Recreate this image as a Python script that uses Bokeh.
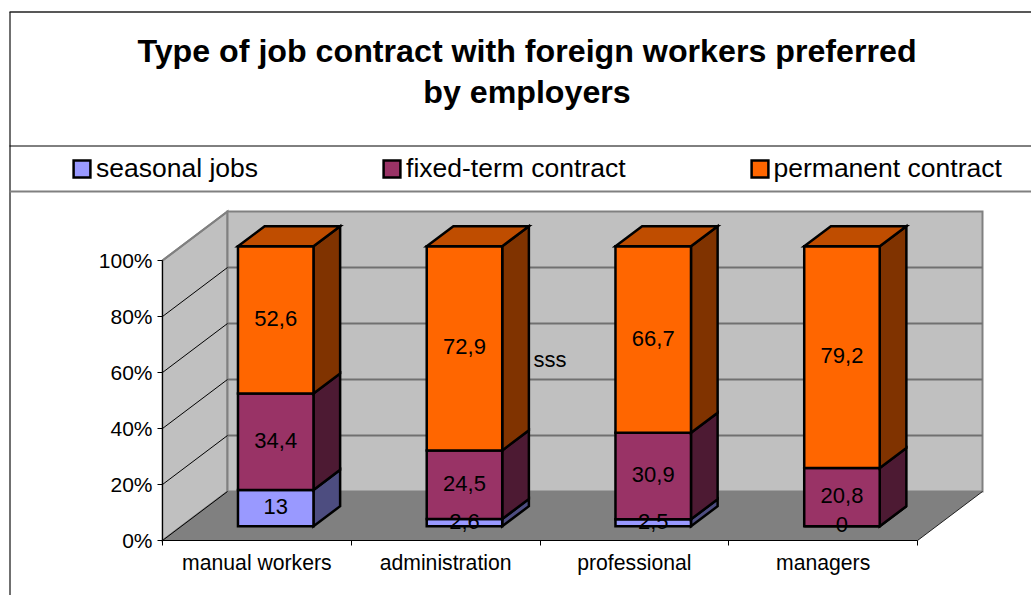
from bokeh.plotting import figure
from bokeh.models import Range1d, LinearAxis, FixedTicker, PrintfTickFormatter, Label, Legend, LegendItem
from bokeh.core.properties import value
from bokeh.embed import file_html
from bokeh.resources import INLINE

title_lines = ["Type of job contract with foreign workers preferred", "by employers"]
categories = ["manual workers", "administration", "professional", "managers"]
series_names = ["seasonal jobs", "fixed-term contract", "permanent contract"]
seasonal = [13, 2.6, 2.5, 0]
fixed_term = [34.4, 24.5, 30.9, 20.8]
permanent = [52.6, 72.9, 66.7, 79.2]
y_ticks = [0, 20, 40, 60, 80, 100]
note = "sss"

front_colors = ["#9999FF", "#993366", "#FF6600"]
side_colors = ["#4D4D80", "#4D1A33", "#803300"]
top_color = "#BF4D00"

# page pixel calibration of the oblique chart box
X0, XPX = 162.0, 188.75
Y0, YPX = 540.0, 2.8
DEPTH_X, DEPTH_Y = 65 / XPX, 49 / YPX
def fx(px): return (px - X0) / XPX
def fy(py): return (Y0 - py) / YPX
def ob(x, y, z): return x + z * DEPTH_X, y + z * DEPTH_Y

W, H = 1031, 595
p = figure(width=W, height=H, output_backend="svg", toolbar_location=None,
           x_range=Range1d(fx(0), fx(W)), y_range=Range1d(fy(H), fy(0)),
           x_axis_type=None, y_axis_type=None, min_border=0,
           background_fill_color="white", border_fill_color="white")
p.outline_line_color = None
p.grid.visible = False

# chart frame
p.line([fx(9.5), fx(9.5)], [fy(595), fy(11.5)], line_color="#404040", line_width=1.5)
p.line([fx(9), fx(1031)], [fy(11.5), fy(11.5)], line_color="#202020", line_width=1.5)
p.line([fx(9), fx(1031)], [fy(145.5), fy(145.5)], line_color="black", line_width=1)
p.line([fx(9), fx(1031)], [fy(191), fy(191)], line_color="#808080", line_width=2)

n = len(categories)
# walls and floor
wall = dict(fill_color="#C0C0C0", line_color="#808080", line_width=2, line_join="miter")
a, b = ob(0, 0, 1), ob(0, 100, 1)
p.patch([0, a[0], b[0], 0], [0, a[1], b[1], 100], **wall)
c = ob(n, 0, 1); d = ob(n, 100, 1)
p.patch([a[0], c[0], d[0], b[0]], [a[1], c[1], d[1], b[1]], **wall)
p.patch([0, n, c[0], a[0]], [0, 0, c[1], a[1]], fill_color="#808080", line_color=None)
p.line([n, c[0]], [0, c[1]], line_color="#202020", line_width=1)
for t in y_ticks[1:-1]:
    e = ob(0, t, 1); f = ob(n, t, 1)
    p.line([e[0], f[0]], [e[1], f[1]], line_color="#707070", line_width=2)
for t in y_ticks:
    e = ob(0, t, 1)
    p.line([0, e[0]], [t, e[1]], line_color="black" if t < 100 else "#808080", line_width=1 if t < 100 else 2)

# bars
BAR = 0.4
Z0, Z1 = 0.29, 0.70
values = [seasonal, fixed_term, permanent]
totals = [sum(s[i] for s in values) for i in range(n)]
front_r = []
lx, ly, lt = [], [], []
tops = [0.0] * n
for s_i, s in enumerate(values):
    fxs, fys, sxs, sys = [], [], [], []
    for i, v in enumerate(s):
        h = 100 * v / totals[i]
        x0 = i + (1 - BAR) / 2
        x1 = x0 + BAR
        y0, y1 = tops[i], tops[i] + h
        A = ob(x0, y0, Z0); B = ob(x1, y0, Z0); C = ob(x1, y1, Z0); D = ob(x0, y1, Z0)
        E = ob(x1, y0, Z1); F = ob(x1, y1, Z1)
        fxs.append([A[0], B[0], C[0], D[0]]); fys.append([A[1], B[1], C[1], D[1]])
        sxs.append([B[0], E[0], F[0], C[0]]); sys.append([B[1], E[1], F[1], C[1]])
        lx.append((A[0] + B[0]) / 2); ly.append((A[1] + D[1]) / 2)
        lt.append(f"{v:g}".replace(".", ","))
        tops[i] = y1
    style = dict(line_color="black", line_width=2.5, line_join="miter")
    p.patches(sxs, sys, fill_color=side_colors[s_i], **style)
    front_r.append(p.patches(fxs, fys, fill_color=front_colors[s_i], **style))

txs, tys = [], []
for i in range(n):
    x0 = i + (1 - BAR) / 2
    x1 = x0 + BAR
    D = ob(x0, tops[i], Z0); C = ob(x1, tops[i], Z0); F = ob(x1, tops[i], Z1); G = ob(x0, tops[i], Z1)
    txs.append([D[0], C[0], F[0], G[0]]); tys.append([D[1], C[1], F[1], G[1]])
p.patches(txs, tys, fill_color=top_color, line_color="black", line_width=2.5, line_join="miter")

font = "Liberation Sans"
p.text(lx, ly, text=lt, text_font=value(font), text_font_size="22px", text_color="black",
       text_align="center", text_baseline="middle", y_offset=-1.5)
p.add_layout(Label(x=fx(533), y=fy(359), text=note, text_font=font, text_font_size="22px",
                   text_color="black", text_align="left", text_baseline="middle"))

# title
for line, py in zip(title_lines, [50, 91]):
    p.add_layout(Label(x=fx(526.5), y=fy(py), text=line, text_font=font, text_font_size="32.2px",
                       text_font_style="bold", text_color="black", text_align="center",
                       text_baseline="middle"))

# axes
yax = LinearAxis(fixed_location=0, bounds=(0, 100), ticker=FixedTicker(ticks=y_ticks),
                 formatter=PrintfTickFormatter(format="%d%%"))
yax.axis_line_color = "black"; yax.major_tick_line_color = "black"
yax.major_tick_in = 0; yax.major_tick_out = 5; yax.major_label_standoff = 5
yax.major_label_text_font = font; yax.major_label_text_font_size = "21px"
yax.major_label_text_color = "black"; yax.minor_tick_line_color = None
p.add_layout(yax, "left")

mids = [i + 0.5 for i in range(n)]
xax = LinearAxis(fixed_location=0, bounds=(0, n),
                 ticker=FixedTicker(ticks=mids, minor_ticks=list(range(n + 1))),
                 major_label_overrides={m: c for m, c in zip(mids, categories)})
xax.axis_line_color = "black"; xax.major_tick_line_color = None
xax.major_tick_in = 0; xax.major_tick_out = 0
xax.minor_tick_in = 0; xax.minor_tick_out = 5; xax.minor_tick_line_color = "black"
xax.major_label_standoff = 5
xax.major_label_text_font = font; xax.major_label_text_font_size = "21.2px"
xax.major_label_text_color = "black"
p.add_layout(xax, "below")

# legend
legend = Legend(items=[LegendItem(label=nm, renderers=[r]) for nm, r in zip(series_names, front_r)],
                orientation="horizontal", location=(71, 411), margin=0, padding=0, spacing=123,
                glyph_width=21, glyph_height=21, label_standoff=4,
                label_text_font=font, label_text_font_size="26.5px", label_text_color="black",
                background_fill_alpha=0, border_line_color=None)
p.add_layout(legend, "center")

open("out.html", "w").write(file_html(p, INLINE))
